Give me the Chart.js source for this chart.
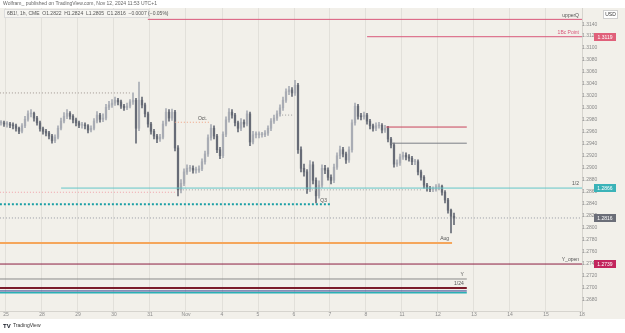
<!DOCTYPE html>
<html>
<head>
<meta charset="utf-8">
<script src="https://cdn.jsdelivr.net/npm/chart.js@4.4.1/dist/chart.umd.min.js"></script>
<style>
  html, body { margin: 0; padding: 0; background: #ffffff; }
  #wrap { position: relative; width: 625px; height: 333px; }
</style>
</head>
<body>
<div id="wrap"><canvas id="chart" width="625" height="333"></canvas></div>
<script>
// trading days on the time axis (Oct 25 .. Nov 18)
const dayLabels = ['25', '28', '29', '30', '31', 'Nov', '4', '5', '6', '7', '8', '11', '12', '13', '14', '15', '18'];
const priceTicks = [1.2680, 1.2700, 1.2720, 1.2740, 1.2760, 1.2780, 1.2800, 1.2820, 1.2840, 1.2860,
  1.2880, 1.2900, 1.2920, 1.2940, 1.2960, 1.2980, 1.3000, 1.3020, 1.3040, 1.3060, 1.3080, 1.3100,
  1.3120, 1.3140];

// 2h candles, first one at Oct 25 ~08:00 (open = previous close)
const closes = [
  1.2975, 1.2973, 1.2973, 1.2971, 1.2970, 1.2966, 1.2961, 1.2970, 1.2981, 1.2990,
  1.2991, 1.2983, 1.2975, 1.2965, 1.2961, 1.2958, 1.2953, 1.2945, 1.2951, 1.2966,
  1.2978, 1.2986, 1.2991, 1.2986, 1.2980, 1.2975, 1.2971, 1.2971, 1.2970, 1.2963,
  1.2966, 1.2978, 1.2988, 1.2981, 1.2983, 1.3001, 1.3005, 1.3008, 1.3013, 1.3010,
  1.3003, 1.3000, 1.3003, 1.3010, 1.3013, 1.2966, 1.3013, 1.3005, 1.2990, 1.2973,
  1.2961, 1.2953, 1.2948, 1.2951, 1.2973, 1.2993, 1.2983, 1.2993, 1.2933, 1.2863,
  1.2874, 1.2893, 1.2899, 1.2899, 1.2896, 1.2896, 1.2898, 1.2910, 1.2923, 1.2950,
  1.2966, 1.2953, 1.2930, 1.2920, 1.2956, 1.2980, 1.2993, 1.2988, 1.2975, 1.2966,
  1.2976, 1.2973, 1.2990, 1.2943, 1.2955, 1.2955, 1.2955, 1.2955, 1.2958, 1.2966,
  1.2978, 1.2983, 1.2990, 1.3000, 1.3013, 1.3027, 1.3030, 1.3025, 1.3038, 1.2930,
  1.2899, 1.2893, 1.2863, 1.2905, 1.2879, 1.2853, 1.2871, 1.2899, 1.2896, 1.2884,
  1.2879, 1.2901, 1.2920, 1.2930, 1.2923, 1.2913, 1.2930, 1.2975, 1.3003, 1.2986,
  1.2985, 1.2988, 1.2978, 1.2970, 1.2966, 1.2970, 1.2971, 1.2963, 1.2966, 1.2948,
  1.2938, 1.2906, 1.2908, 1.2918, 1.2921, 1.2918, 1.2916, 1.2910, 1.2910, 1.2893,
  1.2884, 1.2871, 1.2866, 1.2864, 1.2864, 1.2868, 1.2869, 1.2859, 1.2846, 1.2829,
  1.2819, 1.2816
];
const highs = [
  1.2979, 1.2978, 1.2977, 1.2976, 1.2975, 1.2973, 1.2968, 1.2974, 1.2986, 1.2995,
  1.2997, 1.2993, 1.2986, 1.2978, 1.2968, 1.2964, 1.2961, 1.2956, 1.2955, 1.2970,
  1.2983, 1.2992, 1.2997, 1.2994, 1.2989, 1.2983, 1.2978, 1.2976, 1.2975, 1.2972,
  1.2970, 1.2982, 1.2994, 1.2991, 1.2990, 1.3006, 1.3011, 1.3014, 1.3018, 1.3016,
  1.3013, 1.3006, 1.3008, 1.3014, 1.3025, 1.3016, 1.3043, 1.3018, 1.3008, 1.2993,
  1.2976, 1.2964, 1.2956, 1.2956, 1.2978, 1.2999, 1.2997, 1.2998, 1.2996, 1.2937,
  1.2880, 1.2898, 1.2905, 1.2904, 1.2903, 1.2901, 1.2903, 1.2915, 1.2928, 1.2955,
  1.2972, 1.2970, 1.2956, 1.2934, 1.2960, 1.2985, 1.2999, 1.2997, 1.2991, 1.2978,
  1.2982, 1.2980, 1.2995, 1.2993, 1.2961, 1.2960, 1.2960, 1.2959, 1.2962, 1.2970,
  1.2982, 1.2988, 1.2995, 1.3005, 1.3018, 1.3032, 1.3036, 1.3034, 1.3046, 1.3041,
  1.2935, 1.2906, 1.2897, 1.2912, 1.2910, 1.2883, 1.2878, 1.2905, 1.2904, 1.2900,
  1.2888, 1.2906, 1.2925, 1.2936, 1.2934, 1.2926, 1.2935, 1.2980, 1.3008, 1.3006,
  1.2991, 1.2993, 1.2991, 1.2981, 1.2973, 1.2975, 1.2976, 1.2974, 1.2971, 1.2969,
  1.2951, 1.2941, 1.2913, 1.2923, 1.2926, 1.2925, 1.2922, 1.2919, 1.2914, 1.2913,
  1.2896, 1.2887, 1.2874, 1.2869, 1.2868, 1.2872, 1.2873, 1.2871, 1.2862, 1.2849,
  1.2831, 1.2824
];
const lows = [
  1.2971, 1.2969, 1.2968, 1.2967, 1.2965, 1.2961, 1.2957, 1.2958, 1.2967, 1.2978,
  1.2985, 1.2978, 1.2971, 1.2961, 1.2956, 1.2953, 1.2948, 1.2941, 1.2942, 1.2948,
  1.2963, 1.2975, 1.2982, 1.2981, 1.2975, 1.2970, 1.2967, 1.2966, 1.2965, 1.2958,
  1.2960, 1.2963, 1.2975, 1.2976, 1.2977, 1.2980, 1.2997, 1.3001, 1.3004, 1.3005,
  1.2999, 1.2996, 1.2997, 1.3000, 1.3006, 1.2941, 1.2962, 1.3000, 1.2985, 1.2968,
  1.2956, 1.2948, 1.2942, 1.2944, 1.2948, 1.2970, 1.2978, 1.2979, 1.2928, 1.2853,
  1.2858, 1.2870, 1.2889, 1.2894, 1.2891, 1.2891, 1.2892, 1.2895, 1.2906, 1.2919,
  1.2946, 1.2948, 1.2925, 1.2915, 1.2917, 1.2952, 1.2976, 1.2983, 1.2970, 1.2960,
  1.2962, 1.2968, 1.2970, 1.2937, 1.2940, 1.2950, 1.2950, 1.2951, 1.2952, 1.2954,
  1.2962, 1.2974, 1.2979, 1.2986, 1.2996, 1.3009, 1.3022, 1.3019, 1.3021, 1.2924,
  1.2893, 1.2886, 1.2857, 1.2860, 1.2873, 1.2841, 1.2849, 1.2867, 1.2890, 1.2879,
  1.2873, 1.2875, 1.2897, 1.2915, 1.2918, 1.2907, 1.2909, 1.2926, 1.2971, 1.2981,
  1.2980, 1.2981, 1.2973, 1.2965, 1.2961, 1.2962, 1.2966, 1.2958, 1.2959, 1.2943,
  1.2933, 1.2901, 1.2902, 1.2904, 1.2914, 1.2913, 1.2911, 1.2905, 1.2905, 1.2888,
  1.2879, 1.2866, 1.2861, 1.2860, 1.2860, 1.2861, 1.2863, 1.2854, 1.2841, 1.2824,
  1.2791, 1.2805
];

// drawn levels: name, price, start / end in trading days
const levelNames = ['upperQ', '1Bc Point', '', 'Oct.', '', '', '', '1/2', '', '', 'Q3', 'Aug', 'Y_open', 'Y', '1/24', '', ''];
const levelPrices = [1.3148, 1.3119, 1.3025, 1.2976, 1.2988, 1.2968, 1.2941, 1.2866, 1.2859, 1.2863,
  1.2839, 1.2774, 1.2739, 1.2714, 1.2699, 1.2694, 1.2691];
const levelFrom = [3.94, 10.03, -0.17, 4.69, 7.67, 10.56, 10.69, 1.53, -0.17, 4.83,
  -0.17, -0.17, -0.17, -0.17, -0.17, -0.17, -0.17];
const levelTo = [16, 16, 3.44, 5.67, 8.0, 12.8, 12.8, 16, 4.69, 11.58,
  9.0, 12.39, 16, 12.8, 12.8, 12.8, 12.8];

const levelStyles = [
  { color: '#d9587a', width: 1 },
  { color: '#d9587a', width: 1, box: '#e0607a', text: '#d9587a' },
  { color: '#a09590', width: 1, dash: [1, 2] },
  { color: '#f0a080', width: 1, dash: [1, 2] },
  { color: '#9a9a9a', width: 1, dash: [1, 2] },
  { color: '#c8435a', width: 1 },
  { color: '#7b7e86', width: 1 },
  { color: '#63c6c9', width: 1, box: '#3bb3b8' },
  { color: '#f0a0a8', width: 1, dash: [1, 2] },
  { color: '#a3a3a3', width: 1, dash: [1, 2] },
  { color: '#1a9ea5', width: 2, dash: [2, 2] },
  { color: '#f5a65b', width: 2 },
  { color: '#8c1d40', width: 1, box: '#c2255c' },
  { color: '#8a8a8a', width: 1 },
  { color: '#7b1c2a', width: 2 },
  { color: '#2b3f8f', width: 1 },
  { color: '#2ab0b5', width: 1.5 },
];

const firstBar = -5 / 36;
const barsPerDay = 12;
const upColor = '#a9acb4';
const downColor = '#676b76';
const font = 'Liberation Sans, Arial, sans-serif';

const barX = i => firstBar + i / barsPerDay;
const opens = closes.map((c, i) => (i ? closes[i - 1] : c));
const lastClose = closes[closes.length - 1];
const candleColors = closes.map((c, i) => (c >= opens[i] ? upColor : downColor));

const levelSets = levelPrices.map((p, i) => ({
  type: 'line',
  data: [{ x: levelFrom[i], y: p }, { x: levelTo[i], y: p }],
  borderColor: levelStyles[i].color,
  borderWidth: levelStyles[i].width,
  borderDash: levelStyles[i].dash || [],
  pointRadius: 0,
  order: 0,
}));

const lastLine = {
  type: 'line',
  data: [{ x: -0.17, y: lastClose }, { x: 16, y: lastClose }],
  borderColor: '#9598a1',
  borderWidth: 1,
  borderDash: [1, 2],
  pointRadius: 0,
  order: 3,
};

const paneBg = {
  id: 'paneBg',
  beforeDraw(chart) {
    const { ctx, width, height, chartArea, scales } = chart;
    ctx.save();
    ctx.fillStyle = '#ffffff';
    ctx.fillRect(0, 0, width, height);
    ctx.fillStyle = '#f2f0ea';
    ctx.fillRect(0, chartArea.top, width, scales.x.bottom - chartArea.top);
    ctx.restore();
  }
};

const overlay = {
  id: 'overlay',
  afterDraw(chart) {
    const { ctx, scales } = chart;
    const x = scales.x, y = scales.y;
    ctx.save();

    // level names
    ctx.font = `5px ${font}`;
    ctx.textAlign = 'right';
    ctx.textBaseline = 'bottom';
    levelNames.forEach((name, i) => {
      if (!name) return;
      ctx.fillStyle = levelStyles[i].text || '#555555';
      ctx.fillText(name, x.getPixelForValue(levelTo[i]) - 3, y.getPixelForValue(levelPrices[i]) - 1.5);
    });

    // price boxes on the axis
    const box = (price, color, label) => {
      const py = Math.round(y.getPixelForValue(price));
      ctx.fillStyle = color;
      ctx.fillRect(594, py - 4, 22, 8);
      ctx.fillStyle = '#ffffff';
      ctx.textAlign = 'center';
      ctx.textBaseline = 'middle';
      ctx.fillText(label, 605, py + 0.5);
    };
    levelPrices.forEach((p, i) => {
      if (levelStyles[i].box) box(p, levelStyles[i].box, p.toFixed(4));
    });
    box(lastClose, '#6b6e78', lastClose.toFixed(4));

    // currency box
    ctx.fillStyle = '#ffffff';
    ctx.strokeStyle = '#cfcfcf';
    ctx.fillRect(603.5, 10.5, 14, 8);
    ctx.strokeRect(603.5, 10.5, 14, 8);
    ctx.fillStyle = '#333333';
    ctx.fillText('USD', 610.5, 15);

    // header
    ctx.textAlign = 'left';
    ctx.textBaseline = 'middle';
    ctx.fillStyle = '#666666';
    ctx.fillText('Wolfram_ published on TradingView.com, Nov 12, 2024 11:53 UTC+1', 3, 4);

    // legend
    ctx.fillStyle = '#f6f5f1';
    ctx.strokeStyle = '#dcdcdc';
    ctx.fillRect(4.5, 9.5, 144, 8);
    ctx.strokeRect(4.5, 9.5, 144, 8);
    ctx.fillStyle = '#555555';
    ctx.fillText('6B1!, 1h, CME  O1.2822  H1.2824  L1.2805  C1.2816  \u22120.0007 (\u22120.05%)', 7, 14);

    // footer
    ctx.fillStyle = '#131722';
    ctx.font = `bold 6px ${font}`;
    ctx.fillText('TV', 3, 326);
    ctx.font = `5px ${font}`;
    ctx.fillStyle = '#333333';
    ctx.fillText('TradingView', 13, 326);
    ctx.restore();
  }
};

new Chart(document.getElementById('chart'), {
  type: 'bar',
  data: {
    datasets: [
      {
        data: closes.map((c, i) => ({ x: barX(i), y: [opens[i], c] })),
        backgroundColor: candleColors,
        barThickness: 1.6,
        minBarLength: 1,
        grouped: false,
        order: 1,
      },
      {
        data: closes.map((c, i) => ({ x: barX(i), y: [lows[i], highs[i]] })),
        backgroundColor: candleColors,
        barThickness: 1,
        grouped: false,
        order: 2,
      },
      lastLine,
      ...levelSets,
    ],
  },
  options: {
    responsive: false,
    animation: false,
    layout: { padding: { top: 8, bottom: 14, left: 0, right: 0 } },
    plugins: { legend: { display: false }, tooltip: { enabled: false } },
    scales: {
      x: {
        type: 'linear',
        min: -1 / 6,
        max: 16,
        offset: false,
        afterBuildTicks: s => { s.ticks = dayLabels.map((_, i) => ({ value: i })); },
        afterFit: s => { s.height = 8; },
        ticks: {
          callback: v => dayLabels[v],
          autoSkip: false,
          maxRotation: 0,
          padding: 1,
          color: '#8a8a8a',
          font: { size: 5, family: font },
        },
        grid: { color: '#e2e0da', drawTicks: false, offset: false },
        border: { color: '#d6d4ce' },
      },
      y: {
        position: 'right',
        min: 1.26605,
        max: 1.3167,
        afterBuildTicks: s => { s.ticks = priceTicks.map(v => ({ value: v })); },
        afterFit: s => { s.width = 43; },
        ticks: {
          callback: v => v.toFixed(4),
          crossAlign: 'center',
          padding: 0,
          color: '#8a8a8a',
          font: { size: 5, family: font },
        },
        grid: { display: false, drawTicks: false },
        border: { color: '#d6d4ce' },
      },
    },
  },
  plugins: [paneBg, overlay],
});
</script>
</body>
</html>
